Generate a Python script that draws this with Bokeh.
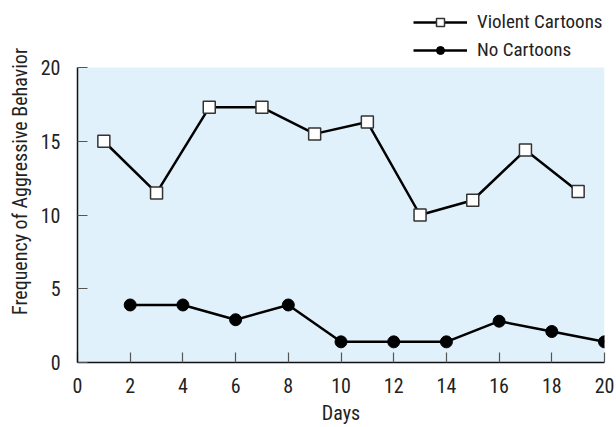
from bokeh.plotting import figure
from bokeh.models import Range1d, Legend, LegendItem, FixedTicker, BoxAnnotation
from bokeh.embed import file_html
from bokeh.resources import INLINE

# Data
violent_days = [1, 3, 5, 7, 9, 11, 13, 15, 17, 19]
violent_vals = [15, 11.5, 17.3, 17.3, 15.5, 16.3, 10, 11, 14.4, 11.6]
none_days = [2, 4, 6, 8, 10, 12, 14, 16, 18, 20]
none_vals = [3.9, 3.9, 2.9, 3.9, 1.4, 1.4, 1.4, 2.8, 2.1, 1.4]
x_ticks = [0, 2, 4, 6, 8, 10, 12, 14, 16, 18, 20]
y_ticks = [0, 5, 10, 15, 20]
y_min, y_max = 0, 20
x_min, x_max = 0, 20
series_names = ["Violent Cartoons", "No Cartoons"]

FONT = "'Liberation Sans Narrow', 'Roboto Condensed', 'DejaVu Sans Condensed', sans-serif"
TXT = "#222222"

# frame spans the whole top of the canvas; the data area (0..20) is shaded
H, TOP_PX, BOTTOM_BORDER = 427, 67, 65
frame_h = H - BOTTOM_BORDER
y_top = y_max * frame_h / (frame_h - TOP_PX)

p = figure(width=616, height=H, output_backend="svg", toolbar_location=None, title=None,
           x_range=Range1d(x_min, x_max), y_range=Range1d(y_min, y_top),
           min_border_left=77, min_border_right=12, min_border_top=0,
           min_border_bottom=BOTTOM_BORDER)
p.background_fill_color = "white"
p.border_fill_color = "white"
p.outline_line_color = None
p.grid.visible = False
p.add_layout(BoxAnnotation(bottom=y_min, top=y_max, left=x_min, right=x_max,
                           fill_color="#e0f1fb", fill_alpha=1, line_color=None,
                           level="underlay"))

for ax in (p.xaxis[0], p.yaxis[0]):
    ax.axis_line_color = "#111111"
    ax.axis_line_width = 1.5
    ax.major_tick_in = 10
    ax.major_tick_out = 0
    ax.minor_tick_line_color = None
    ax.major_tick_line_color = "#555555"
    ax.major_tick_line_width = 1.2
    ax.major_label_text_font = FONT
    ax.major_label_text_font_size = "20px"
    ax.major_label_text_color = TXT
    ax.axis_label_text_font = FONT
    ax.axis_label_text_font_size = "20px"
    ax.axis_label_text_font_style = "normal"
    ax.axis_label_text_color = TXT

p.xaxis.ticker = FixedTicker(ticks=x_ticks)
p.yaxis.ticker = FixedTicker(ticks=y_ticks)
p.yaxis.bounds = (y_min, y_max)
p.xaxis.axis_label = "Days"
p.yaxis.axis_label = "Frequency of Aggressive Behavior"
p.xaxis.major_label_standoff = 15
p.xaxis.axis_label_standoff = 5
p.yaxis.major_label_standoff = 17
p.yaxis.axis_label_standoff = 6

l1 = p.line(violent_days, violent_vals, line_color="black", line_width=2.5)
s1 = p.scatter(violent_days, violent_vals, marker="square", size=12,
               fill_color="white", line_color="#333333", line_width=1.5)
l2 = p.line(none_days, none_vals, line_color="black", line_width=2.5)
s2 = p.scatter(none_days, none_vals, marker="circle", size=12,
               fill_color="black", line_color="black", line_width=1)

legend = Legend(items=[LegendItem(label=series_names[0], renderers=[l1, s1]),
                       LegendItem(label=series_names[1], renderers=[l2, s2])],
                location=(336, 301))
legend.glyph_width = 54
legend.glyph_height = 20
legend.label_height = 20
legend.spacing = 5
legend.label_standoff = 10
legend.padding = 0
legend.margin = 0
legend.border_line_color = None
legend.background_fill_alpha = 0
legend.label_text_font = FONT
legend.label_text_font_size = "19px"
legend.label_text_color = TXT
p.add_layout(legend, "center")

open("out.html", "w").write(file_html(p, INLINE))
